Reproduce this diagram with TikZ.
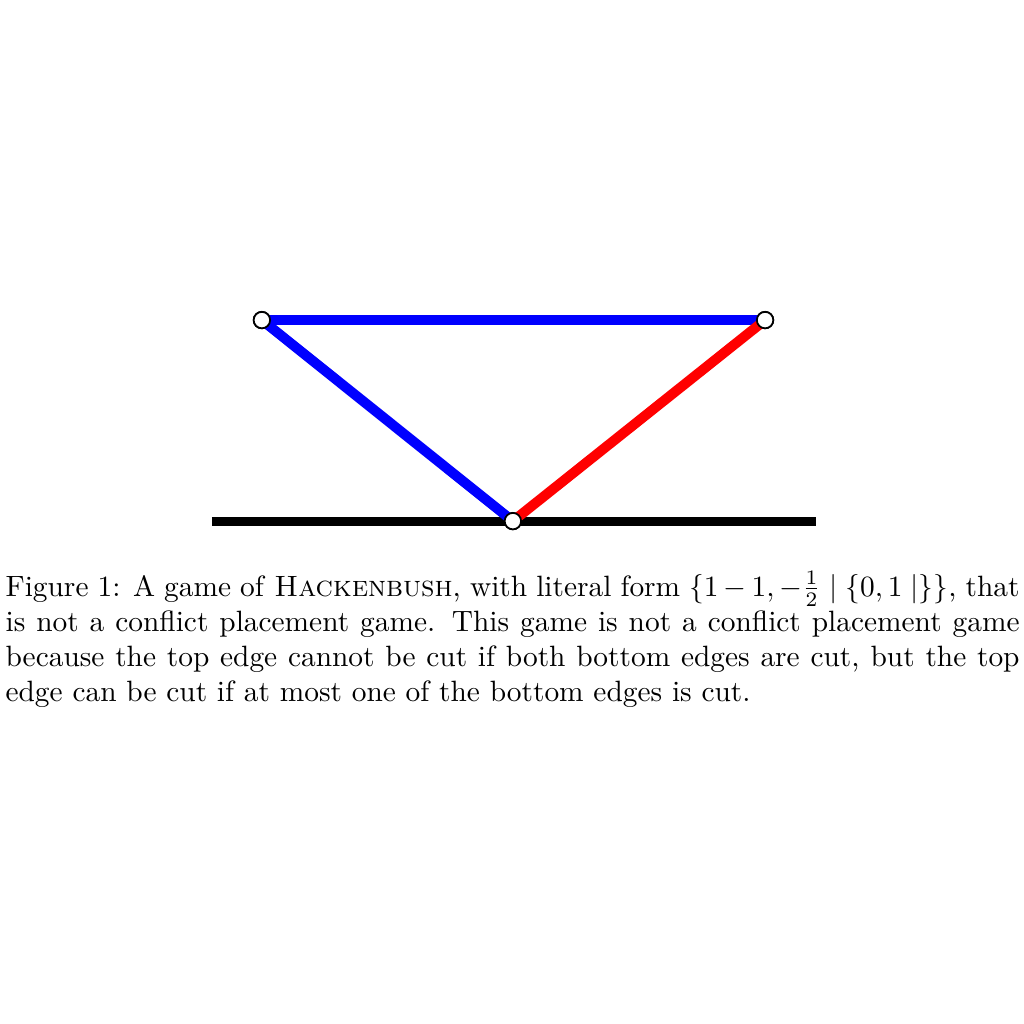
\documentclass[tikz,border=0pt]{standalone}
\usepackage{amsmath}
\begin{document}
\begin{tikzpicture}[x=1pt,y=1pt,
  vtx/.style={circle,draw=black,fill=white,line width=0.6pt,minimum size=5.6pt,inner sep=0pt},
  bluee/.style={draw=blue,line width=3.4pt},
  rede/.style={draw=red,line width=3.4pt},
  groundl/.style={draw=black,line width=3pt}]
\useasboundingbox (0,0) rectangle (348.4,-348.4);
\coordinate (gl) at (72.1,-177.3);
\coordinate (gr) at (277.6,-177.3);
\draw[groundl] (gl) -- (gr);
\node[vtx] (tl) at (89.1,-108.9) {};
\node[vtx] (tr) at (260.3,-108.9) {};
\node[vtx] (b) at (174.5,-177.3) {};
\draw[bluee] (tl.center) -- (tr.center);
\draw[bluee] (tl.center) -- (b.center);
\draw[rede] (b.center) -- (tr.center);
\node[vtx] at (tl) {};
\node[vtx] at (tr) {};
\node[vtx] at (b) {};
\node[anchor=base west,inner sep=0pt] (cap) at (1.7,-202.8) {\parbox[t]{345pt}{Figure 1: A game of \textsc{Hackenbush}, with literal form $\{1-1,-\frac{1}{2}\mid\{0,1\mid\}\}$, that is not a conflict placement game. This game is not a conflict placement game because the top edge cannot be cut if both bottom edges are cut, but the top edge can be cut if at most one of the bottom edges is cut.}};
\end{tikzpicture}
\end{document}
